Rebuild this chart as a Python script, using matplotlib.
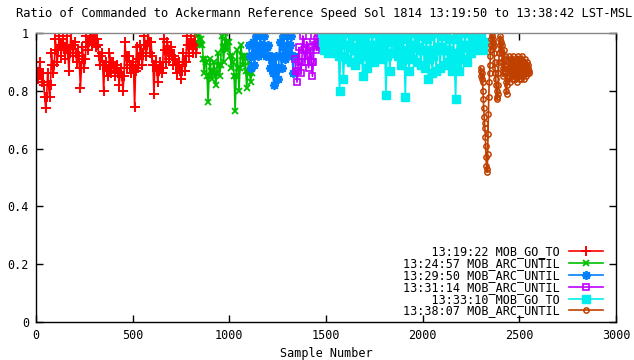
import numpy as np
import matplotlib
matplotlib.use('Agg')
import matplotlib.pyplot as plt

# speed ratio per command segment; each 20-sample window holds an upper,
# a middle and a lower reading, laid out as hi, mid, lo, mid every 5 samples
red_start = 0
red_hi = [0.88, 0.90, 0.82, 0.86, 0.93, 0.98, 0.99, 0.98, 0.99, 1.00, 0.97, 0.92,
          0.95, 0.99, 1.00, 1.00, 0.96, 0.93, 0.90, 0.93, 0.90, 0.89, 0.88, 0.97,
          0.92, 0.90, 0.95, 0.96, 0.99, 1.00, 0.92, 0.90, 0.90, 0.98, 0.97, 0.95,
          0.91, 0.90, 0.93, 0.99, 0.98, 0.99]
red_mid = [0.86, 0.86, 0.78, 0.82, 0.89, 0.94, 0.96, 0.95, 0.93, 0.96, 0.93, 0.88,
           0.91, 0.97, 0.98, 0.98, 0.92, 0.89, 0.87, 0.90, 0.88, 0.86, 0.85, 0.92,
           0.89, 0.87, 0.91, 0.93, 0.96, 0.97, 0.89, 0.87, 0.88, 0.94, 0.94, 0.92,
           0.89, 0.87, 0.90, 0.96, 0.96, 0.96]
red_lo = [0.84, 0.83, 0.74, 0.78, 0.86, 0.90, 0.92, 0.91, 0.87, 0.92, 0.90, 0.81,
          0.88, 0.94, 0.96, 0.95, 0.89, 0.80, 0.85, 0.86, 0.85, 0.82, 0.80, 0.88,
          0.86, 0.745, 0.88, 0.89, 0.92, 0.93, 0.79, 0.83, 0.86, 0.90, 0.91, 0.89,
          0.86, 0.84, 0.87, 0.92, 0.93, 0.93]

green_start = 840
green_hi = [1.00, 0.96, 0.90, 0.91, 0.90, 0.93, 0.99, 1.00, 0.97, 0.90, 0.94, 0.96,
            0.92, 0.90]
green_mid = [0.98, 0.91, 0.85, 0.87, 0.86, 0.89, 0.95, 0.97, 0.92, 0.85, 0.88, 0.92,
             0.87, 0.86]
green_lo = [0.96, 0.86, 0.76, 0.84, 0.82, 0.85, 0.90, 0.94, 0.88, 0.73, 0.80, 0.89,
            0.81, 0.83]

blue_start = 1100
blue_hi = [0.96, 0.97, 0.99, 1.00, 0.99, 0.96, 0.90, 0.92, 0.97, 0.99, 1.00, 0.99]
blue_mid = [0.92, 0.93, 0.95, 0.96, 0.95, 0.92, 0.86, 0.88, 0.92, 0.95, 0.96, 0.92]
blue_lo = [0.88, 0.89, 0.92, 0.93, 0.92, 0.88, 0.82, 0.84, 0.88, 0.91, 0.93, 0.86]

purple_start = 1340
purple_hi = [0.91, 0.95, 0.99, 0.97, 0.95, 0.99, 1.00, 1.00]
purple_mid = [0.87, 0.90, 0.94, 0.92, 0.90, 0.96, 0.97, 0.98]
purple_lo = [0.83, 0.86, 0.90, 0.88, 0.85, 0.94, 0.95, 0.96]

cyan_start = 1480
cyan_hi = [1.00, 1.00, 1.00, 1.00, 0.99, 0.98, 1.00, 1.00, 0.99, 1.00, 0.98, 0.99,
           1.00, 1.00, 1.00, 0.99, 0.98, 0.99, 1.00, 1.00, 0.99, 0.98, 0.99, 1.00,
           1.00, 0.99, 1.00, 0.98, 0.99, 1.00, 1.00, 0.99, 0.99, 0.98, 0.98, 0.99,
           1.00, 1.00, 1.00, 1.00, 1.00, 1.00]
cyan_mid = [0.97, 0.97, 0.97, 0.96, 0.92, 0.92, 0.96, 0.95, 0.94, 0.95, 0.92, 0.94,
            0.96, 0.95, 0.96, 0.95, 0.92, 0.93, 0.97, 0.96, 0.94, 0.91, 0.93, 0.96,
            0.95, 0.94, 0.94, 0.91, 0.92, 0.94, 0.95, 0.94, 0.94, 0.92, 0.90, 0.93,
            0.96, 0.95, 0.96, 0.97, 0.97, 0.97]
cyan_lo = [0.94, 0.93, 0.94, 0.93, 0.80, 0.84, 0.91, 0.90, 0.89, 0.91, 0.85, 0.88,
           0.91, 0.90, 0.92, 0.91, 0.785, 0.87, 0.93, 0.92, 0.89, 0.78, 0.87, 0.91,
           0.90, 0.89, 0.88, 0.84, 0.86, 0.87, 0.88, 0.89, 0.90, 0.87, 0.77, 0.87,
           0.91, 0.90, 0.93, 0.94, 0.95, 0.94]

# last segment, one value every 2 samples
brown_start = 2300
brown_step = 2
brown_vals = [0.88, 0.85, 0.87, 0.84, 0.86, 0.83,
              0.80, 0.77, 0.74, 0.71, 0.69, 0.67, 0.64, 0.61, 0.57, 0.54, 0.52, 0.53,
              0.58, 0.65, 0.72, 0.78, 0.83, 0.86,
              0.89, 0.92, 0.94, 0.96, 0.98, 1.00, 0.99, 0.97, 0.95, 0.98,
              0.96, 0.93, 0.90, 0.88, 0.86, 0.84, 0.82, 0.80, 0.78, 0.77, 0.79, 0.82,
              0.86, 0.90, 0.93, 0.96, 0.98, 0.99, 0.97, 0.94, 0.96, 0.93,
              0.90, 0.87, 0.85, 0.88, 0.91, 0.94, 0.92, 0.89, 0.86, 0.83, 0.80, 0.79,
              0.82, 0.85, 0.88,
              0.90, 0.92, 0.88, 0.85, 0.83, 0.86, 0.89, 0.91, 0.88, 0.85, 0.84, 0.87,
              0.90, 0.92, 0.89,
              0.86, 0.84, 0.87, 0.90, 0.91, 0.88, 0.85, 0.83, 0.86, 0.89, 0.92, 0.90,
              0.87, 0.84, 0.85, 0.88, 0.91, 0.89, 0.86, 0.84, 0.87, 0.90, 0.92, 0.89,
              0.86, 0.84, 0.86, 0.89, 0.91, 0.88, 0.85, 0.86, 0.89, 0.90, 0.87, 0.86,
              0.88, 0.89, 0.87, 0.86]

labels = ['13:19:22 MOB_GO_TO', '13:24:57 MOB_ARC_UNTIL', '13:29:50 MOB_ARC_UNTIL',
          '13:31:14 MOB_ARC_UNTIL', '13:33:10 MOB_GO_TO', '13:38:07 MOB_ARC_UNTIL']
title = 'Ratio of Commanded to Ackermann Reference Speed Sol 1814 13:19:50 to 13:38:42 LST-MSL'


def weave(start, hi, mid, lo):
    # hi at s, mid at s+5, lo at s+10, mid at s+15
    vals = np.ravel(np.column_stack([hi, mid, lo, mid]))
    x = start + 5 * np.arange(len(vals))
    return x, vals


fs = 8.5
plt.rcParams['font.family'] = 'DejaVu Sans Mono'

fig = plt.figure(figsize=(6.34, 3.6), dpi=100)
ax = fig.add_axes([36 / 634, 38 / 360, 580 / 634, 289 / 360])

segs = [
    (weave(red_start, red_hi, red_mid, red_lo), '#ff0000', dict(marker='+', ms=6.5, mew=1.4)),
    (weave(green_start, green_hi, green_mid, green_lo), '#00c000', dict(marker='x', ms=5, mew=1.3)),
    (weave(blue_start, blue_hi, blue_mid, blue_lo), '#0080ff', dict(marker=(8, 2, 0), ms=6.5, mew=1.3)),
    (weave(purple_start, purple_hi, purple_mid, purple_lo), '#c000ff',
     dict(marker='s', ms=5, mew=1.2, mfc='none')),
    (weave(cyan_start, cyan_hi, cyan_mid, cyan_lo), '#00eeee', dict(marker='s', ms=6, mew=1)),
    ((brown_start + brown_step * np.arange(len(brown_vals)), np.array(brown_vals)),
     '#c04000', dict(marker='o', ms=3.8, mew=1.1, mfc='none')),
]

width = max(len(l) for l in labels)
for ((x, y), c, mk), lab in zip(segs, labels):
    ax.plot(x, y, color=c, lw=1.2, label=lab.rjust(width), **mk)

ax.set_xlim(0, 3000)
ax.set_ylim(0, 1)
ax.set_xticks(np.arange(0, 3001, 500))
ax.set_yticks([0, 0.2, 0.4, 0.6, 0.8, 1])
ax.set_yticklabels(['0', '0.2', '0.4', '0.6', '0.8', '1'])
ax.tick_params(direction='in', top=True, right=True, length=5, width=1,
               labelsize=fs, pad=5, colors='black')
for s in ax.spines.values():
    s.set_linewidth(1)
ax.spines['top'].set_color('#888888')

ax.set_xlabel('Sample Number', fontsize=fs, labelpad=4)
fig.text(0.512, 1 - 14 / 360, title, ha='center', va='center', fontsize=8.7)

leg = ax.legend(loc='lower right', bbox_to_anchor=(0.994, -0.017), frameon=False,
                markerfirst=False, fontsize=fs, handlelength=2.9, handletextpad=0.8,
                labelspacing=-0.1, borderpad=0.3)

fig.savefig('out.png', dpi=100)
